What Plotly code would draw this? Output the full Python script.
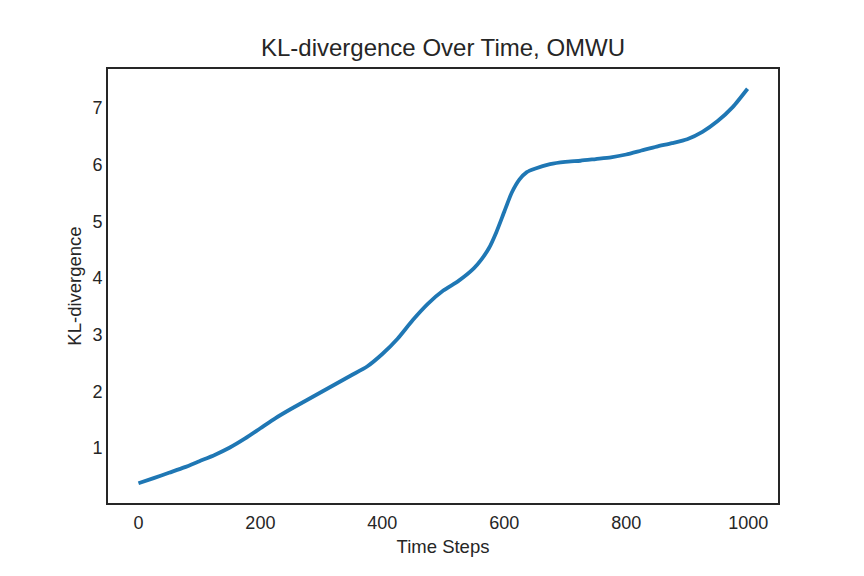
import plotly.graph_objects as go

steps = [0, 25, 50, 75, 100, 125, 150, 175, 200, 225, 250, 275, 300, 325, 350, 375,
         400, 425, 450, 475, 500, 525, 550, 562, 575, 587, 600, 612, 625, 637, 650,
         675, 700, 725, 750, 775, 800, 825, 850, 875, 900, 925, 950, 975, 999]
kl_values = [0.38, 0.47, 0.565, 0.66, 0.77, 0.88, 1.01, 1.17, 1.35, 1.53, 1.69, 1.84,
             1.99, 2.14, 2.29, 2.44, 2.66, 2.93, 3.26, 3.55, 3.78, 3.95, 4.17, 4.32,
             4.53, 4.81, 5.17, 5.50, 5.74, 5.87, 5.93, 6.01, 6.05, 6.07, 6.10, 6.13,
             6.18, 6.25, 6.32, 6.38, 6.45, 6.58, 6.77, 7.02, 7.34]

title_text = "KL-divergence Over Time, OMWU"
x_label = "Time Steps"
y_label = "KL-divergence"

font_family = "Liberation Sans, Arial, DejaVu Sans, sans-serif"
text_color = "#262626"

fig = go.Figure()
fig.add_trace(go.Scatter(
    x=steps, y=kl_values, mode="lines",
    line=dict(color="#1f77b4", width=3.8, shape="spline", smoothing=0.6),
    showlegend=False,
))

fig.update_layout(
    width=864, height=576,
    paper_bgcolor="white", plot_bgcolor="white",
    margin=dict(l=100, r=94, t=61, b=81),
    font=dict(family=font_family, color=text_color, size=18),
    title=dict(text=title_text, x=0.5, xref="paper", xanchor="center",
               y=1 - 40 / 576, yref="container", yanchor="middle",
               font=dict(size=24, color=text_color)),
)

fig.update_xaxes(
    range=[-49.95, 1048.95], tickvals=[0, 200, 400, 600, 800, 1000],
    showgrid=False, zeroline=False,
    showline=True, mirror=True, linecolor=text_color, linewidth=2,
    ticks="outside", ticklen=2, tickcolor="rgba(0,0,0,0)",
    tickfont=dict(size=18),
    title=dict(text=x_label, font=dict(size=18.5), standoff=8),
)
fig.update_yaxes(
    range=[0.0315, 7.6885], tickvals=[1, 2, 3, 4, 5, 6, 7],
    showgrid=False, zeroline=False,
    showline=True, mirror=True, linecolor=text_color, linewidth=2,
    ticks="",
    tickfont=dict(size=18),
    title=dict(text=y_label, font=dict(size=18.5), standoff=6),
)

fig.write_html("out.html")
